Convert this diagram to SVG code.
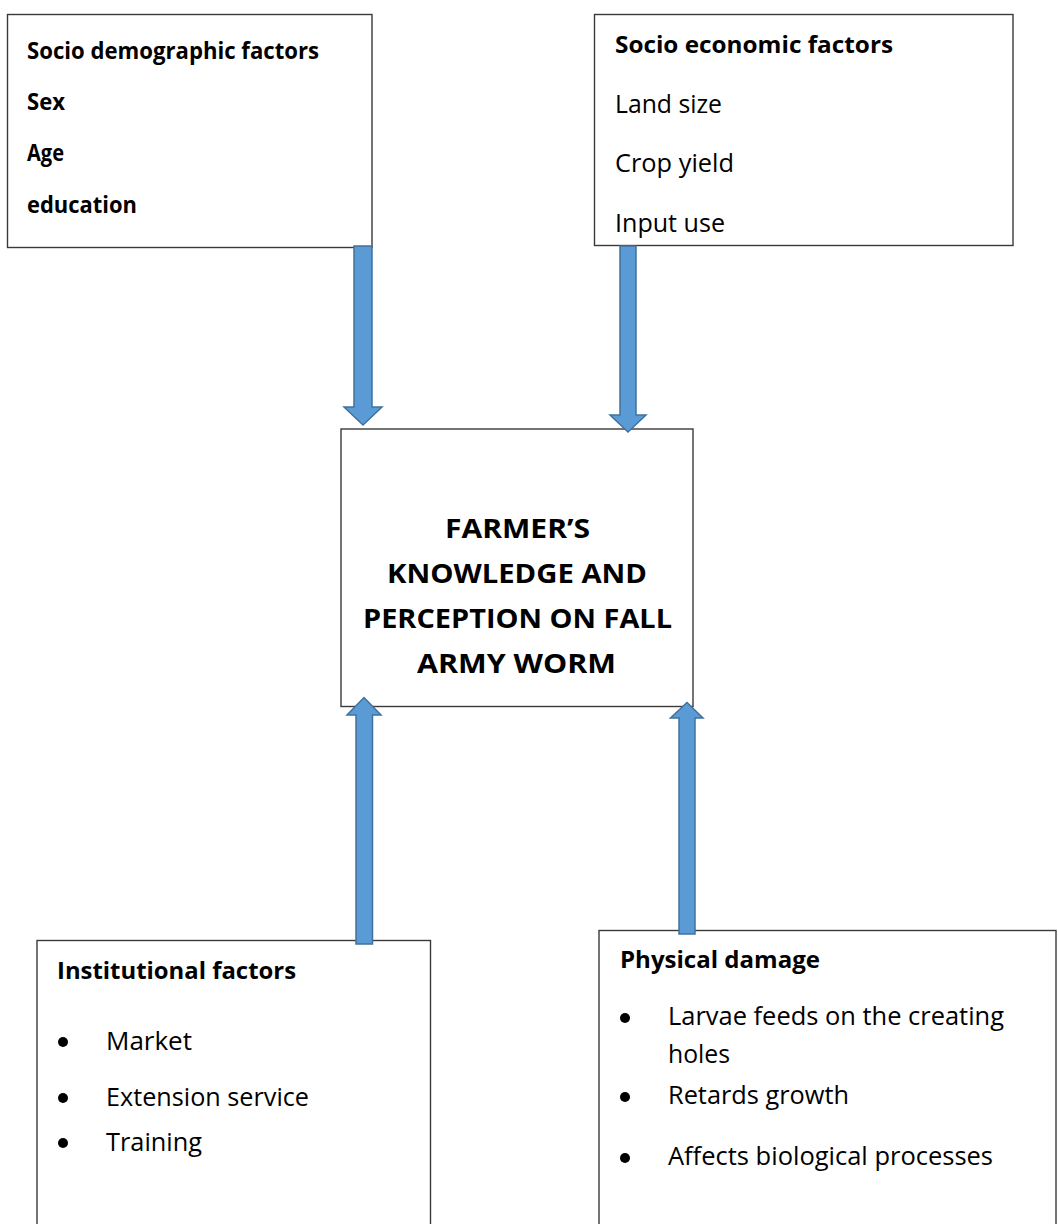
<svg xmlns="http://www.w3.org/2000/svg" width="1058" height="1224" viewBox="0 0 1058 1224">
<style>
.box{fill:#ffffff;stroke:#3a3a3a;stroke-width:1.4}
.t{font-family:"Open Sans","Noto Sans","Liberation Sans",sans-serif;fill:#000;font-size:25px}
.b{font-weight:bold;font-size:22.5px}
.title{font-family:"Open Sans","Noto Sans","Liberation Sans",sans-serif;font-weight:bold;font-size:27px;fill:#000;text-anchor:middle}
.arrow{fill:#5b9bd5;stroke:#41719c;stroke-width:1.5;stroke-linejoin:miter}
.dot{fill:#000}
</style>
<rect width="1058" height="1224" fill="#ffffff"/>
<g id="node-sociodemographic">
<rect class="box" x="7.5" y="14.5" width="364.5" height="233"/>
<text class="t b" x="27" y="59" textLength="292" lengthAdjust="spacingAndGlyphs">Socio demographic factors</text>
<text class="t b" x="27" y="110" textLength="38" lengthAdjust="spacingAndGlyphs">Sex</text>
<text class="t b" x="27" y="161" textLength="37" lengthAdjust="spacingAndGlyphs">Age</text>
<text class="t b" x="27" y="213" textLength="110" lengthAdjust="spacingAndGlyphs">education</text>
</g>
<g id="node-socioeconomic">
<rect class="box" x="594.5" y="14.5" width="418.5" height="231"/>
<text class="t b" x="615" y="53" textLength="278" lengthAdjust="spacingAndGlyphs">Socio economic factors</text>
<text class="t" x="615" y="113" textLength="107" lengthAdjust="spacingAndGlyphs">Land size</text>
<text class="t" x="615" y="172" textLength="119" lengthAdjust="spacingAndGlyphs">Crop yield</text>
<text class="t" x="615" y="232" textLength="110" lengthAdjust="spacingAndGlyphs">Input use</text>
</g>
<g id="node-farmer">
<rect class="box" x="341" y="429" width="352" height="277.5"/>
<text class="title" x="517.5" y="538" textLength="145" lengthAdjust="spacingAndGlyphs">FARMER’S</text>
<text class="title" x="517" y="583" textLength="260" lengthAdjust="spacingAndGlyphs">KNOWLEDGE AND</text>
<text class="title" x="517.5" y="628" textLength="309" lengthAdjust="spacingAndGlyphs">PERCEPTION ON FALL</text>
<text class="title" x="516.5" y="673" textLength="199" lengthAdjust="spacingAndGlyphs">ARMY WORM</text>
</g>
<g id="node-institutional">
<rect class="box" x="37" y="940.5" width="393.5" height="290"/>
<text class="t b" x="57" y="979" textLength="239" lengthAdjust="spacingAndGlyphs">Institutional factors</text>
<circle class="dot" cx="63" cy="1042" r="5"/>
<text class="t" x="106" y="1050" textLength="86" lengthAdjust="spacingAndGlyphs">Market</text>
<circle class="dot" cx="63" cy="1098" r="5"/>
<text class="t" x="106" y="1106" textLength="203" lengthAdjust="spacingAndGlyphs">Extension service</text>
<circle class="dot" cx="63" cy="1143" r="5"/>
<text class="t" x="106" y="1151" textLength="96" lengthAdjust="spacingAndGlyphs">Training</text>
</g>
<g id="node-physical">
<rect class="box" x="599" y="930.5" width="457" height="300"/>
<text class="t b" x="620" y="968" textLength="200" lengthAdjust="spacingAndGlyphs">Physical damage</text>
<circle class="dot" cx="625" cy="1018" r="5"/>
<text class="t" x="668" y="1025" textLength="336" lengthAdjust="spacingAndGlyphs">Larvae feeds on the creating</text>
<text class="t" x="668" y="1063" textLength="62" lengthAdjust="spacingAndGlyphs">holes</text>
<circle class="dot" cx="625" cy="1097" r="5"/>
<text class="t" x="668" y="1104" textLength="181" lengthAdjust="spacingAndGlyphs">Retards growth</text>
<circle class="dot" cx="625" cy="1158" r="5"/>
<text class="t" x="668" y="1165" textLength="325" lengthAdjust="spacingAndGlyphs">Affects biological processes</text>
</g>
<g id="connectors">
<path class="arrow" d="M354,246 L372,246 L372,407 L382,407 L363,425 L344,407 L354,407 Z"/>
<path class="arrow" d="M620,246 L636,246 L636,415 L646,415 L628,432 L610,415 L620,415 Z"/>
<path class="arrow" d="M356,944 L372.5,944 L372.5,715 L381,715 L364,697.5 L347,715 L356,715 Z"/>
<path class="arrow" d="M679,934 L695,934 L695,718 L703,718 L687,702.5 L670.5,718 L679,718 Z"/>
</g>
</svg>
